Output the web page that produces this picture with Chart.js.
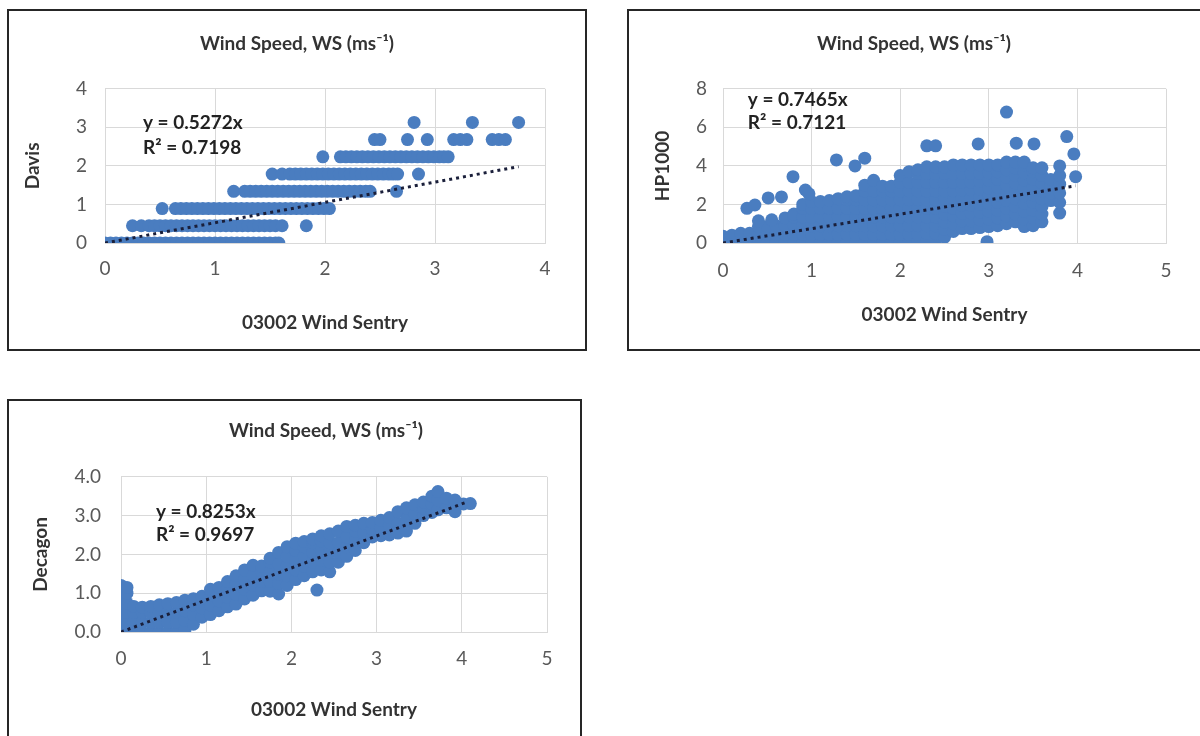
<!DOCTYPE html>
<html>
<head>
<meta charset="utf-8">
<script src="https://cdn.jsdelivr.net/npm/chart.js@4.4.1/dist/chart.umd.min.js"></script>
<style>
  body { margin: 0; background: #fff; width: 1200px; height: 736px; overflow: hidden; position: relative; }
  .frame { position: absolute; border: 2px solid #262626; box-sizing: border-box; }
  canvas { position: absolute; }
</style>
</head>
<body>
<div class="frame" style="left:7px;top:9px;width:580px;height:342px"></div>
<div class="frame" style="left:627px;top:9px;width:575px;height:342px"></div>
<div class="frame" style="left:7px;top:399px;width:575px;height:400px"></div>
<canvas id="davis" width="576" height="338" style="left:9px;top:11px"></canvas>
<canvas id="hp1000" width="570" height="338" style="left:629px;top:11px"></canvas>
<canvas id="decagon" width="634" height="335" style="left:9px;top:401px"></canvas>
<script>
// Davis vs 03002 Wind Sentry - Davis readings come in 0.447 m/s steps
const davisLevels = [0, 0.447, 0.894, 1.341, 1.788, 2.235, 2.682, 3.129];
const davisX = [
  [0, 0.05, 0.10, 0.15, 0.20, 0.25, 0.30, 0.35, 0.40, 0.45, 0.50, 0.55, 0.60, 0.65, 0.70, 0.75, 0.80, 0.85, 0.90, 0.95,
    1.00, 1.05, 1.10, 1.15, 1.20, 1.25, 1.30, 1.35, 1.40, 1.45, 1.50, 1.55, 1.58],
  [0.25, 0.33, 0.40, 0.45, 0.50, 0.55, 0.60, 0.65, 0.70, 0.75, 0.80, 0.85, 0.90, 0.95, 1.00, 1.05, 1.10, 1.15, 1.20,
    1.25, 1.30, 1.35, 1.40, 1.45, 1.50, 1.55, 1.61, 1.83],
  [0.52, 0.64, 0.69, 0.74, 0.79, 0.84, 0.89, 0.94, 0.99, 1.04, 1.09, 1.14, 1.19, 1.24, 1.29, 1.34, 1.39, 1.44, 1.49,
    1.54, 1.59, 1.64, 1.69, 1.74, 1.79, 1.84, 1.89, 1.94, 1.99, 2.04],
  [1.17, 1.27, 1.32, 1.37, 1.42, 1.47, 1.52, 1.57, 1.62, 1.67, 1.72, 1.77, 1.82, 1.87, 1.92, 1.97, 2.02, 2.07, 2.12,
    2.17, 2.22, 2.27, 2.32, 2.37, 2.41, 2.65],
  [1.52, 1.61, 1.68, 1.73, 1.78, 1.83, 1.88, 1.93, 1.98, 2.03, 2.08, 2.13, 2.18, 2.23, 2.28, 2.33, 2.38, 2.43, 2.48,
    2.53, 2.58, 2.62, 2.66, 2.85],
  [1.98, 2.14, 2.19, 2.24, 2.29, 2.34, 2.39, 2.44, 2.49, 2.54, 2.59, 2.64, 2.69, 2.74, 2.79, 2.84, 2.89, 2.94, 2.99,
    3.04, 3.08, 3.12],
  [2.45, 2.50, 2.75, 2.93, 3.17, 3.23, 3.29, 3.52, 3.58, 3.64],
  [2.81, 3.34, 3.76]
];
const davisTrendX = [0, 3.76];
const davisTrendY = [0, 1.98];

// HP1000 vs 03002 Wind Sentry - dense cloud read column by column
const hpColX = [0.0, 0.1, 0.2, 0.3, 0.4, 0.5, 0.6, 0.7, 0.8, 0.9, 1.0, 1.1, 1.2, 1.3, 1.4, 1.5, 1.6, 1.7, 1.8, 1.9,
  2.0, 2.1, 2.2, 2.3, 2.4, 2.5, 2.6, 2.7, 2.8, 2.9, 3.0, 3.1, 3.2, 3.3, 3.4, 3.5, 3.6, 3.7, 3.8];
const hpColY = [
  [0, 0.35], [0, 0.4], [0, 0.5], [0, 0.5],
  [0, 0.45, 0.85], [0, 0.45, 0.85], [0, 0.45, 0.9],
  [0, 0.45, 0.9, 1.3], [0, 0.45, 0.9, 1.35, 1.5],
  [0, 0.45, 0.9, 1.35, 1.8, 2.0], [0, 0.45, 0.9, 1.35, 1.8, 2.15], [0, 0.45, 0.9, 1.35, 1.8, 2.15],
  [0, 0.45, 0.9, 1.35, 1.8, 2.2], [0, 0.45, 0.9, 1.35, 1.8, 2.3],
  [0, 0.45, 0.9, 1.35, 1.8, 2.25, 2.4], [0, 0.45, 0.9, 1.35, 1.8, 2.25, 2.45],
  [0, 0.45, 0.9, 1.35, 1.8, 2.25, 2.7, 3.0], [0, 0.45, 0.9, 1.35, 1.8, 2.25, 2.7, 3.25],
  [0, 0.45, 0.9, 1.35, 1.8, 2.25, 2.7, 2.95], [0, 0.45, 0.9, 1.35, 1.8, 2.25, 2.7, 2.95],
  [0, 0.45, 0.9, 1.35, 1.8, 2.25, 2.7, 3.15, 3.5], [0, 0.45, 0.9, 1.35, 1.8, 2.25, 2.7, 3.15, 3.7],
  [0.1, 0.45, 0.9, 1.35, 1.8, 2.25, 2.7, 3.15, 3.6, 3.8], [0.1, 0.5, 0.9, 1.35, 1.8, 2.25, 2.7, 3.15, 3.6, 3.95],
  [0.2, 0.5, 0.9, 1.35, 1.8, 2.25, 2.7, 3.15, 3.6, 3.95], [0.3, 0.7, 1.1, 1.5, 1.9, 2.3, 2.7, 3.15, 3.6, 3.95],
  [0.6, 1.0, 1.4, 1.8, 2.25, 2.7, 3.15, 3.6, 4.05], [0.75, 1.15, 1.55, 1.95, 2.35, 2.75, 3.15, 3.6, 4.05],
  [0.75, 1.15, 1.55, 1.95, 2.35, 2.75, 3.15, 3.6, 4.05], [0.8, 1.2, 1.6, 2.0, 2.4, 2.8, 3.2, 3.6, 4.05],
  [0.85, 1.25, 1.65, 2.05, 2.45, 2.85, 3.25, 3.65, 4.05], [0.9, 1.3, 1.7, 2.1, 2.5, 2.9, 3.3, 3.7, 4.05],
  [1.0, 1.4, 1.8, 2.2, 2.6, 3.0, 3.4, 3.8, 4.2], [1.1, 1.5, 1.9, 2.3, 2.7, 3.1, 3.5, 3.9, 4.2],
  [0.85, 1.25, 1.65, 2.05, 2.45, 2.85, 3.25, 3.65, 4.05, 4.2], [0.9, 1.3, 1.7, 2.1, 2.5, 2.9, 3.3, 3.7, 3.9],
  [1.1, 1.5, 1.9, 2.3, 2.7, 3.1, 3.5, 3.9], [2.2, 2.6, 3.0, 3.3],
  [1.55, 2.1, 2.6, 3.05, 3.5, 4.0]
];
const hpOutX = [0.27, 0.36, 0.40, 0.51, 0.55, 0.66, 0.79, 0.93, 0.97, 1.28, 1.49, 1.60, 2.30, 2.40, 2.88, 2.98, 3.20, 3.31, 3.51, 3.88, 3.96, 3.98];
const hpOutY = [1.80, 1.97, 1.15, 2.34, 1.20, 2.39, 3.44, 2.75, 2.55, 4.31, 4.00, 4.40, 5.04, 5.04, 5.14, 0.07, 6.79, 5.18, 5.14, 5.52, 4.62, 3.44];
const hpTrendX = [0, 3.98];
const hpTrendY = [0, 2.97];

// Decagon vs 03002 Wind Sentry - narrow band along the fit line
const decColX = [0.0, 0.07, 0.15, 0.25, 0.35, 0.45, 0.55, 0.65, 0.75, 0.85, 0.95, 1.05, 1.15, 1.25, 1.35, 1.45, 1.55, 1.65,
  1.75, 1.85, 1.95, 2.05, 2.15, 2.25, 2.35, 2.45, 2.55, 2.65, 2.75, 2.85, 2.95, 3.05, 3.15, 3.25, 3.35, 3.45, 3.55,
  3.65, 3.72, 3.82, 3.92, 4.02, 4.10];
const decColY = [
  [0, 0.25, 0.5, 0.75, 1.0, 1.2], [0, 0.25, 0.5, 0.75, 1.0, 1.15],
  [0, 0.25, 0.5, 0.66], [0, 0.25, 0.5, 0.64], [0, 0.25, 0.5, 0.66], [0, 0.25, 0.5, 0.7],
  [0, 0.25, 0.5, 0.73], [0, 0.25, 0.5, 0.76], [0.05, 0.3, 0.55, 0.82], [0.2, 0.45, 0.7, 0.86],
  [0.38, 0.62, 0.92], [0.45, 0.7, 0.95, 1.1], [0.55, 0.8, 1.05, 1.15], [0.65, 0.9, 1.15, 1.3],
  [0.72, 0.97, 1.22, 1.45], [0.85, 1.1, 1.35, 1.6], [0.95, 1.2, 1.45, 1.72], [1.06, 1.3, 1.55, 1.7],
  [1.05, 1.3, 1.55, 1.8, 1.9], [0.98, 1.25, 1.5, 1.75, 2.05], [1.2, 1.45, 1.7, 1.95, 2.2],
  [1.35, 1.6, 1.85, 2.1, 2.29], [1.45, 1.7, 1.95, 2.2, 2.33], [1.55, 1.8, 2.05, 2.3, 2.4],
  [1.6, 1.85, 2.1, 2.35, 2.48], [1.55, 1.8, 2.05, 2.3, 2.53], [1.8, 2.05, 2.3, 2.6],
  [1.95, 2.2, 2.45, 2.72], [2.1, 2.35, 2.6, 2.75], [2.3, 2.55, 2.8], [2.45, 2.65, 2.82],
  [2.48, 2.7, 2.88], [2.5, 2.75, 2.95], [2.55, 2.8, 3.1], [2.6, 2.9, 3.2], [2.8, 3.05, 3.28],
  [3.0, 3.2, 3.35], [3.08, 3.3, 3.5], [3.15, 3.4, 3.62], [3.2, 3.45], [3.1, 3.4], [3.3], [3.31]
];
const decOutX = [2.30];
const decOutY = [1.08];
const decTrendX = [0, 4.06];
const decTrendY = [0, 3.35];

const fontFamily = "Lato, 'Liberation Sans', sans-serif";
const markerBlue = "#4A7DC0";
const chartTitle = "Wind Speed, WS (ms\u207B\u00B9)";

function toPoints(xs, ys) {
  return xs.map((x, i) => ({ x: x, y: ys[i] }));
}

function fromColumns(colX, colY) {
  const pts = [];
  colX.forEach((x, i) => colY[i].forEach(y => pts.push({ x: x, y: y })));
  return pts;
}

// regression text drawn inside the plot, anchored on data values
const equationLabel = {
  id: "equationLabel",
  afterDatasetsDraw(chart, args, opts) {
    const { ctx, scales } = chart;
    const x = scales.x.getPixelForValue(opts.x);
    ctx.save();
    ctx.font = "bold 19px " + fontFamily;
    ctx.fillStyle = "#222222";
    ctx.textBaseline = "middle";
    opts.lines.forEach((line, i) => {
      ctx.fillText(line, x, scales.y.getPixelForValue(opts.y[i]));
    });
    ctx.restore();
  }
};

function scatterChart(id, cfg) {
  return new Chart(document.getElementById(id), {
    type: "scatter",
    data: {
      datasets: [
        {
          type: "line",
          data: cfg.trend,
          borderColor: "#1a1f3a",
          borderWidth: 3,
          borderDash: [3, 4],
          pointRadius: 0,
          fill: false,
          order: 0
        },
        {
          data: cfg.points,
          backgroundColor: markerBlue,
          borderWidth: 0,
          pointRadius: cfg.radius,
          pointHoverRadius: cfg.radius,
          order: 1
        }
      ]
    },
    plugins: [equationLabel],
    options: {
      responsive: false,
      animation: false,
      events: [],
      layout: { padding: 0 },
      plugins: {
        legend: { display: false },
        tooltip: { enabled: false },
        title: {
          display: true,
          text: chartTitle,
          color: "#333333",
          font: { family: fontFamily, size: 19, weight: "bold" },
          padding: { top: cfg.titleTop, bottom: cfg.titleBottom }
        },
        equationLabel: cfg.eq
      },
      scales: {
        x: {
          type: "linear",
          min: 0,
          max: cfg.xMax,
          ticks: { stepSize: 1, color: "#595959", font: { family: fontFamily, size: 19 }, padding: cfg.xTickPad },
          grid: { color: "#d9d9d9", drawTicks: false },
          border: { color: "#d9d9d9" },
          title: {
            display: true,
            text: "03002 Wind Sentry",
            color: "#333333",
            font: { family: fontFamily, size: 19, weight: "bold" },
            padding: { top: 0, bottom: cfg.xTitleBottom }
          },
          afterFit: s => { s.height = cfg.xHeight; }
        },
        y: {
          type: "linear",
          min: 0,
          max: cfg.yMax,
          ticks: {
            stepSize: cfg.yStep,
            color: "#595959",
            font: { family: fontFamily, size: 19 },
            padding: cfg.yTickPad,
            callback: v => cfg.yDecimals ? v.toFixed(cfg.yDecimals) : v
          },
          grid: { color: "#d9d9d9", drawTicks: false },
          border: { color: "#d9d9d9" },
          title: {
            display: true,
            text: cfg.yTitle,
            color: "#333333",
            font: { family: fontFamily, size: 19, weight: "bold" },
            padding: { top: cfg.yTitleLeft, bottom: 0 }
          },
          afterFit: s => { s.width = cfg.yWidth; }
        },
        // empty spacer on the right so the chart title stays centred on the whole frame
        spacer: {
          type: "linear",
          position: "right",
          display: true,
          grid: { display: false },
          border: { display: false },
          ticks: { display: false },
          afterFit: s => { s.width = cfg.padRight; }
        }
      }
    }
  });
}

const davisPoints = [];
davisLevels.forEach((lvl, i) => davisX[i].forEach(x => davisPoints.push({ x: x, y: lvl })));

scatterChart("davis", {
  points: davisPoints,
  trend: toPoints(davisTrendX, davisTrendY),
  radius: 6.5,
  xMax: 4, yMax: 4, yStep: 1, yDecimals: 0,
  yTitle: "Davis",
  padRight: 40, yWidth: 96, yTickPad: 18, yTitleLeft: 12,
  titleTop: 21, titleBottom: 34,
  xHeight: 106, xTickPad: 14, xTitleBottom: 15,
  eq: { x: 0.345, y: [3.12, 2.48], lines: ["y = 0.5272x", "R\u00B2 = 0.7198"] }
});

scatterChart("hp1000", {
  points: fromColumns(hpColX, hpColY).concat(toPoints(hpOutX, hpOutY)),
  trend: toPoints(hpTrendX, hpTrendY),
  radius: 6.5,
  xMax: 5, yMax: 8, yStep: 2, yDecimals: 0,
  yTitle: "HP1000",
  padRight: 33, yWidth: 94, yTickPad: 16, yTitleLeft: 22,
  titleTop: 21, titleBottom: 34,
  xHeight: 106, xTickPad: 16, xTitleBottom: 23,
  eq: { x: 0.28, y: [7.43, 6.22], lines: ["y = 0.7465x", "R\u00B2 = 0.7121"] }
});

scatterChart("decagon", {
  points: fromColumns(decColX, decColY).concat(toPoints(decOutX, decOutY)),
  trend: toPoints(decTrendX, decTrendY),
  radius: 6.5,
  xMax: 5, yMax: 4, yStep: 1, yDecimals: 1,
  yTitle: "Decagon",
  padRight: 96, yWidth: 112, yTickPad: 20, yTitleLeft: 20,
  titleTop: 18, titleBottom: 35,
  xHeight: 104, xTickPad: 15, xTitleBottom: 15,
  eq: { x: 0.41, y: [3.1, 2.5], lines: ["y = 0.8253x", "R\u00B2 = 0.9697"] }
});
</script>
</body>
</html>
